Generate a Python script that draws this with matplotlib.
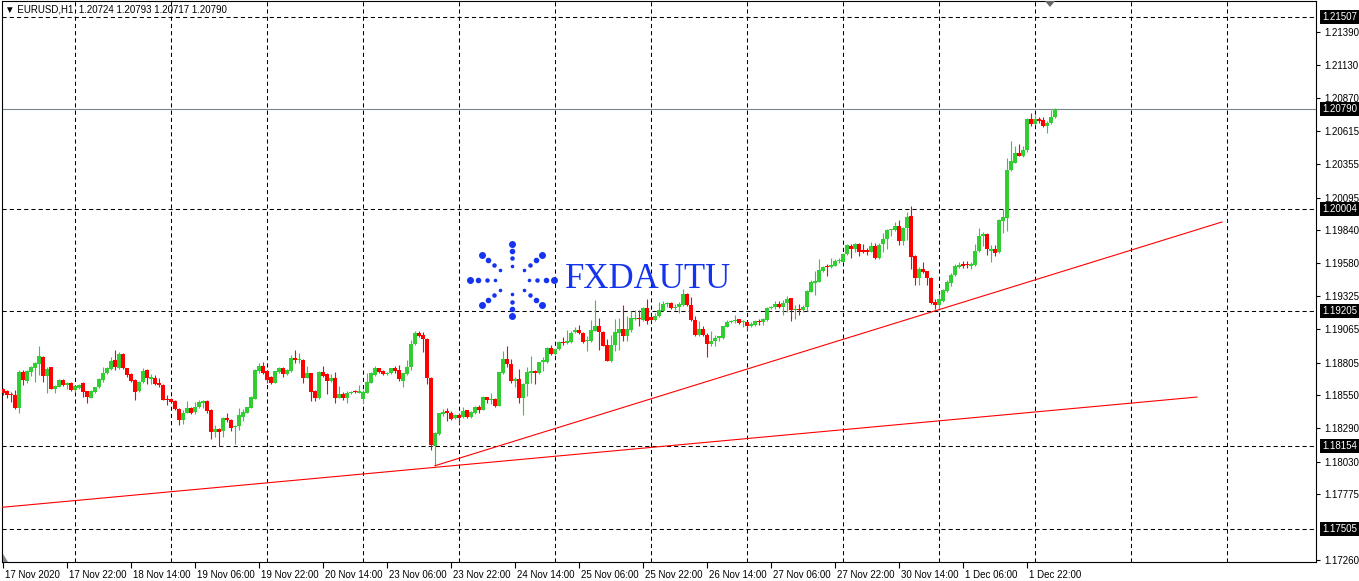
import numpy as np
import matplotlib
matplotlib.use("Agg")
import matplotlib.pyplot as plt
from matplotlib.patches import Polygon
from matplotlib.transforms import ScaledTranslation

plt.rcParams['font.family'] = ['Liberation Sans', 'DejaVu Sans']
plt.rcParams['lines.scale_dashes'] = False

# EURUSD H1 candles, bar 0 = 17 Nov 2020 06:00, last bar = 2 Dec 05:00
opens = [
    1.18596, 1.18583, 1.18552, 1.18552, 1.18453, 1.18734, 1.18661, 1.18734, 1.18765, 1.18796,
    1.18848, 1.18703, 1.18768, 1.18596, 1.18617, 1.18669, 1.18630, 1.18648, 1.18591, 1.18607,
    1.18643, 1.18583, 1.18531, 1.18575, 1.18612, 1.18669, 1.18721, 1.18755, 1.18825, 1.18765,
    1.18872, 1.18760, 1.18716, 1.18669, 1.18583, 1.18651, 1.18747, 1.18677, 1.18682, 1.18648,
    1.18630, 1.18521, 1.18521, 1.18505, 1.18440, 1.18357, 1.18412, 1.18451, 1.18417, 1.18461,
    1.18492, 1.18505, 1.18435, 1.18261, 1.18284, 1.18266, 1.18370, 1.18357, 1.18297, 1.18305,
    1.18378, 1.18414, 1.18453, 1.18521, 1.18742, 1.18781, 1.18742, 1.18695, 1.18648, 1.18734,
    1.18763, 1.18716, 1.18739, 1.18841, 1.18825, 1.18825, 1.18687, 1.18721, 1.18586, 1.18526,
    1.18734, 1.18713, 1.18661, 1.18687, 1.18531, 1.18562, 1.18526, 1.18565, 1.18578, 1.18570,
    1.18518, 1.18570, 1.18648, 1.18708, 1.18760, 1.18739, 1.18713, 1.18721, 1.18765, 1.18747,
    1.18664, 1.18716, 1.18768, 1.18950, 1.19038, 1.19020, 1.18989, 1.18685, 1.18154, 1.18245,
    1.18404, 1.18422, 1.18409, 1.18370, 1.18396, 1.18375, 1.18430, 1.18378, 1.18409, 1.18461,
    1.18435, 1.18534, 1.18508, 1.18521, 1.18466, 1.18721, 1.18833, 1.18794, 1.18661, 1.18677,
    1.18531, 1.18635, 1.18726, 1.18742, 1.18721, 1.18807, 1.18812, 1.18916, 1.18872, 1.18908,
    1.18968, 1.18955, 1.18968, 1.19040, 1.19060, 1.19034, 1.18972, 1.18970, 1.19053, 1.19092,
    1.19042, 1.18944, 1.18814, 1.18944, 1.19035, 1.19066, 1.19009, 1.19061, 1.19144, 1.19152,
    1.19139, 1.19230, 1.19157, 1.19139, 1.19165, 1.19211, 1.19261, 1.19274, 1.19230, 1.19237,
    1.19256, 1.19341, 1.19256, 1.19139, 1.19022, 1.19066, 1.19022, 1.18951, 1.18970, 1.18996,
    1.18996, 1.19081, 1.19118, 1.19126, 1.19145, 1.19119, 1.19121, 1.19087, 1.19100, 1.19129,
    1.19121, 1.19139, 1.19230, 1.19236, 1.19264, 1.19236, 1.19267, 1.19308, 1.19217, 1.19225,
    1.19212, 1.19243, 1.19360, 1.19425, 1.19438, 1.19524, 1.19561, 1.19548, 1.19563, 1.19599,
    1.19594, 1.19652, 1.19719, 1.19693, 1.19732, 1.19680, 1.19677, 1.19672, 1.19716, 1.19620,
    1.19732, 1.19771, 1.19839, 1.19839, 1.19875, 1.19753, 1.19854, 1.19948, 1.19636, 1.19462,
    1.19540, 1.19519, 1.19467, 1.19277, 1.19254, 1.19285, 1.19363, 1.19428, 1.19488, 1.19553,
    1.19571, 1.19571, 1.19563, 1.19566, 1.19675, 1.19792, 1.19810, 1.19675, 1.19696, 1.19667,
    1.19909, 1.19935, 1.20307, 1.20369, 1.20447, 1.20421, 1.20463, 1.20710, 1.20671, 1.20710,
    1.20702, 1.20655, 1.20676, 1.20724,
]
highs = [
    1.18604, 1.18591, 1.18578, 1.18591, 1.18747, 1.18747, 1.18747, 1.18778, 1.18809, 1.18934,
    1.18856, 1.18773, 1.18773, 1.18627, 1.18674, 1.18679, 1.18656, 1.18656, 1.18630, 1.18635,
    1.18656, 1.18586, 1.18591, 1.18617, 1.18687, 1.18768, 1.18773, 1.18851, 1.18903, 1.18890,
    1.18877, 1.18765, 1.18721, 1.18674, 1.18664, 1.18760, 1.18752, 1.18716, 1.18708, 1.18682,
    1.18635, 1.18552, 1.18526, 1.18510, 1.18446, 1.18435, 1.18505, 1.18456, 1.18500, 1.18513,
    1.18513, 1.18513, 1.18440, 1.18313, 1.18289, 1.18379, 1.18414, 1.18362, 1.18318, 1.18448,
    1.18440, 1.18461, 1.18544, 1.18752, 1.18799, 1.18812, 1.18747, 1.18700, 1.18742, 1.18773,
    1.18768, 1.18752, 1.18864, 1.18903, 1.18877, 1.18830, 1.18778, 1.18726, 1.18591, 1.18742,
    1.18778, 1.18721, 1.18713, 1.18731, 1.18622, 1.18578, 1.18583, 1.18583, 1.18591, 1.18630,
    1.18591, 1.18726, 1.18734, 1.18778, 1.18765, 1.18744, 1.18731, 1.18765, 1.18778, 1.18786,
    1.18726, 1.18825, 1.18981, 1.19051, 1.19051, 1.19046, 1.18994, 1.18695, 1.18258, 1.18414,
    1.18440, 1.18448, 1.18422, 1.18404, 1.18409, 1.18461, 1.18435, 1.18422, 1.18466, 1.18471,
    1.18547, 1.18539, 1.18570, 1.18526, 1.18734, 1.18898, 1.18937, 1.18830, 1.18695, 1.18755,
    1.18643, 1.18773, 1.18856, 1.18747, 1.18812, 1.18846, 1.18924, 1.18942, 1.18913, 1.18973,
    1.19007, 1.19059, 1.19051, 1.19079, 1.19099, 1.19047, 1.19014, 1.19139, 1.19295, 1.19152,
    1.19048, 1.18988, 1.19022, 1.19144, 1.19152, 1.19256, 1.19165, 1.19204, 1.19217, 1.19217,
    1.19243, 1.19300, 1.19170, 1.19196, 1.19282, 1.19289, 1.19282, 1.19282, 1.19263, 1.19282,
    1.19378, 1.19347, 1.19321, 1.19165, 1.19126, 1.19087, 1.19035, 1.19048, 1.19022, 1.19014,
    1.19092, 1.19139, 1.19139, 1.19178, 1.19147, 1.19139, 1.19126, 1.19118, 1.19139, 1.19147,
    1.19152, 1.19236, 1.19249, 1.19288, 1.19288, 1.19295, 1.19327, 1.19313, 1.19256, 1.19264,
    1.19256, 1.19373, 1.19451, 1.19522, 1.19615, 1.19563, 1.19574, 1.19620, 1.19612, 1.19620,
    1.19659, 1.19735, 1.19729, 1.19737, 1.19737, 1.19732, 1.19703, 1.19745, 1.19737, 1.19737,
    1.19818, 1.19849, 1.19849, 1.19901, 1.19922, 1.19865, 1.19984, 1.20031, 1.19649, 1.19550,
    1.19592, 1.19524, 1.19472, 1.19303, 1.19342, 1.19381, 1.19454, 1.19506, 1.19576, 1.19589,
    1.19597, 1.19597, 1.19589, 1.19732, 1.19857, 1.19826, 1.19818, 1.19727, 1.19722, 1.19927,
    1.20005, 1.20408, 1.20538, 1.20499, 1.20515, 1.20499, 1.20715, 1.20754, 1.20741, 1.20728,
    1.20723, 1.20697, 1.20780, 1.20793,
]
lows = [
    1.18552, 1.18531, 1.18500, 1.18440, 1.18414, 1.18630, 1.18643, 1.18703, 1.18656, 1.18708,
    1.18656, 1.18570, 1.18596, 1.18565, 1.18612, 1.18625, 1.18596, 1.18586, 1.18578, 1.18599,
    1.18539, 1.18492, 1.18526, 1.18565, 1.18604, 1.18656, 1.18713, 1.18747, 1.18747, 1.18757,
    1.18752, 1.18690, 1.18656, 1.18508, 1.18575, 1.18643, 1.18638, 1.18638, 1.18630, 1.18617,
    1.18508, 1.18474, 1.18495, 1.18435, 1.18313, 1.18324, 1.18409, 1.18404, 1.18404, 1.18453,
    1.18448, 1.18414, 1.18209, 1.18222, 1.18149, 1.18219, 1.18336, 1.18266, 1.18171, 1.18279,
    1.18344, 1.18409, 1.18448, 1.18516, 1.18721, 1.18716, 1.18643, 1.18638, 1.18643, 1.18726,
    1.18695, 1.18708, 1.18734, 1.18799, 1.18799, 1.18643, 1.18682, 1.18505, 1.18505, 1.18521,
    1.18695, 1.18557, 1.18656, 1.18492, 1.18526, 1.18513, 1.18487, 1.18560, 1.18565, 1.18565,
    1.18487, 1.18565, 1.18643, 1.18700, 1.18721, 1.18708, 1.18708, 1.18716, 1.18726, 1.18664,
    1.18617, 1.18711, 1.18747, 1.18942, 1.19007, 1.18890, 1.18638, 1.18118, 1.17998, 1.18235,
    1.18383, 1.18344, 1.18352, 1.18362, 1.18326, 1.18370, 1.18373, 1.18373, 1.18404, 1.18409,
    1.18430, 1.18492, 1.18482, 1.18461, 1.18466, 1.18716, 1.18773, 1.18643, 1.18617, 1.18492,
    1.18396, 1.18547, 1.18643, 1.18638, 1.18716, 1.18742, 1.18804, 1.18867, 1.18864, 1.18903,
    1.18942, 1.18950, 1.18955, 1.19034, 1.19029, 1.18956, 1.18897, 1.18962, 1.19048, 1.18905,
    1.18931, 1.18814, 1.18806, 1.18892, 1.18905, 1.18970, 1.18970, 1.19040, 1.19139, 1.19087,
    1.19126, 1.19107, 1.19126, 1.19133, 1.19157, 1.19204, 1.19237, 1.19222, 1.19217, 1.19191,
    1.19248, 1.19248, 1.19133, 1.19014, 1.19014, 1.19009, 1.18847, 1.18936, 1.18931, 1.18970,
    1.18990, 1.19081, 1.19113, 1.19113, 1.19108, 1.19082, 1.19061, 1.19082, 1.19087, 1.19100,
    1.19095, 1.19131, 1.19223, 1.19225, 1.19230, 1.19178, 1.19199, 1.19131, 1.19147, 1.19178,
    1.19199, 1.19204, 1.19355, 1.19334, 1.19433, 1.19516, 1.19483, 1.19542, 1.19561, 1.19586,
    1.19589, 1.19646, 1.19625, 1.19672, 1.19641, 1.19659, 1.19646, 1.19667, 1.19615, 1.19615,
    1.19667, 1.19696, 1.19792, 1.19831, 1.19722, 1.19722, 1.19766, 1.19537, 1.19415, 1.19415,
    1.19506, 1.19412, 1.19262, 1.19225, 1.19212, 1.19280, 1.19355, 1.19402, 1.19480, 1.19545,
    1.19545, 1.19545, 1.19537, 1.19558, 1.19670, 1.19714, 1.19649, 1.19589, 1.19636, 1.19662,
    1.19818, 1.19831, 1.20299, 1.20364, 1.20416, 1.20411, 1.20455, 1.20655, 1.20663, 1.20681,
    1.20645, 1.20598, 1.20668, 1.20717,
]
closes = [
    1.18570, 1.18552, 1.18549, 1.18448, 1.18734, 1.18669, 1.18739, 1.18773, 1.18804, 1.18856,
    1.18700, 1.18755, 1.18601, 1.18622, 1.18669, 1.18630, 1.18648, 1.18591, 1.18622, 1.18627,
    1.18578, 1.18539, 1.18583, 1.18612, 1.18679, 1.18726, 1.18765, 1.18817, 1.18773, 1.18872,
    1.18760, 1.18708, 1.18664, 1.18578, 1.18656, 1.18742, 1.18682, 1.18695, 1.18638, 1.18627,
    1.18513, 1.18513, 1.18500, 1.18443, 1.18357, 1.18414, 1.18451, 1.18409, 1.18461, 1.18497,
    1.18505, 1.18422, 1.18258, 1.18287, 1.18258, 1.18370, 1.18353, 1.18289, 1.18302, 1.18393,
    1.18419, 1.18456, 1.18539, 1.18744, 1.18781, 1.18721, 1.18669, 1.18648, 1.18737, 1.18765,
    1.18716, 1.18747, 1.18843, 1.18825, 1.18833, 1.18687, 1.18726, 1.18578, 1.18531, 1.18734,
    1.18703, 1.18664, 1.18687, 1.18531, 1.18557, 1.18531, 1.18570, 1.18578, 1.18573, 1.18583,
    1.18578, 1.18651, 1.18721, 1.18760, 1.18734, 1.18713, 1.18726, 1.18760, 1.18742, 1.18674,
    1.18721, 1.18773, 1.18950, 1.19038, 1.19012, 1.18986, 1.18682, 1.18162, 1.18253, 1.18409,
    1.18419, 1.18409, 1.18362, 1.18396, 1.18370, 1.18422, 1.18378, 1.18417, 1.18461, 1.18435,
    1.18539, 1.18508, 1.18513, 1.18466, 1.18734, 1.18833, 1.18794, 1.18661, 1.18677, 1.18531,
    1.18638, 1.18734, 1.18731, 1.18721, 1.18807, 1.18825, 1.18916, 1.18872, 1.18908, 1.18968,
    1.18955, 1.18976, 1.19038, 1.19060, 1.19034, 1.18969, 1.18977, 1.19061, 1.19092, 1.19040,
    1.18936, 1.18814, 1.18944, 1.19040, 1.19066, 1.19009, 1.19066, 1.19152, 1.19152, 1.19144,
    1.19235, 1.19133, 1.19139, 1.19170, 1.19217, 1.19261, 1.19269, 1.19230, 1.19243, 1.19263,
    1.19341, 1.19256, 1.19139, 1.19022, 1.19066, 1.19022, 1.18951, 1.18977, 1.18996, 1.19009,
    1.19087, 1.19120, 1.19133, 1.19139, 1.19113, 1.19126, 1.19087, 1.19108, 1.19131, 1.19124,
    1.19145, 1.19230, 1.19241, 1.19264, 1.19236, 1.19269, 1.19303, 1.19217, 1.19225, 1.19217,
    1.19243, 1.19366, 1.19431, 1.19444, 1.19529, 1.19555, 1.19548, 1.19568, 1.19602, 1.19602,
    1.19652, 1.19724, 1.19693, 1.19729, 1.19672, 1.19672, 1.19672, 1.19716, 1.19620, 1.19724,
    1.19771, 1.19844, 1.19844, 1.19870, 1.19753, 1.19857, 1.19940, 1.19628, 1.19462, 1.19540,
    1.19511, 1.19462, 1.19267, 1.19254, 1.19298, 1.19371, 1.19433, 1.19493, 1.19558, 1.19571,
    1.19563, 1.19566, 1.19576, 1.19680, 1.19797, 1.19810, 1.19693, 1.19696, 1.19662, 1.19917,
    1.19940, 1.20312, 1.20377, 1.20447, 1.20421, 1.20468, 1.20710, 1.20671, 1.20710, 1.20694,
    1.20655, 1.20681, 1.20728, 1.20790,
]

# time axis labels every 16 bars
time_labels = ["17 Nov 2020", "17 Nov 22:00", "18 Nov 14:00", "19 Nov 06:00", "19 Nov 22:00",
               "20 Nov 14:00", "23 Nov 06:00", "23 Nov 22:00", "24 Nov 14:00", "25 Nov 06:00",
               "25 Nov 22:00", "26 Nov 14:00", "27 Nov 06:00", "27 Nov 22:00", "30 Nov 14:00",
               "1 Dec 06:00", "1 Dec 22:00"]
label_bars = [0, 16, 32, 48, 64, 80, 96, 112, 128, 144, 160, 176, 192, 208, 224, 240, 256]
day_bars = [18, 42, 66, 90, 114, 138, 162, 186, 210, 234, 258, 282, 306]  # day separators

price_ticks = [1.21390, 1.21130, 1.20870, 1.20615, 1.20355, 1.20095, 1.19840, 1.19580,
               1.19325, 1.19065, 1.18805, 1.18550, 1.18290, 1.18030, 1.17775, 1.17260]
level_lines = [1.21507, 1.20004, 1.19205, 1.18154, 1.17505]
bid_price = 1.20790

# trend lines (bar index, price)
trend_low_x = [-0.5, 298.5]
trend_low_y = [1.17672, 1.18535]
trend_up_x = [108, 304.75]
trend_up_y = [1.17998, 1.19904]

W, H = 1359, 581
fig = plt.figure(figsize=(W / 100, H / 100), dpi=100)
ax = fig.add_axes([2 / W, (H - 562) / H, 1314 / W, 561 / H])
ax.set_xlim(-0.25, 328.25)
ax.set_ylim(1.17245, 1.21632)

dash = (0, (3.0, 2.2))
for b in day_bars:
    ax.axvline(b, color='black', lw=0.75, ls=dash, zorder=1)
for v in level_lines:
    ax.axhline(v, color='black', lw=0.75, ls=dash, zorder=1)
ax.axhline(bid_price, color='#7a8590', lw=0.8, zorder=1)

o = np.array(opens)
h = np.array(highs)
l = np.array(lows)
c = np.array(closes)
h = np.maximum(h, np.maximum(o, c))
l = np.minimum(l, np.minimum(o, c))
x = np.arange(len(o))
col = np.where(c >= o, '#32cd32', '#ff0000')
ax.vlines(x, l, h, colors=col, lw=0.8, zorder=3)
ax.bar(x, np.maximum(np.abs(c - o), 0.00009), bottom=np.minimum(o, c), width=0.78,
       color=col, lw=0, zorder=3)

ax.plot(trend_low_x, trend_low_y, color='red', lw=0.8, zorder=4)
ax.plot(trend_up_x, trend_up_y, color='red', lw=0.8, zorder=4)

# axes
for s in ax.spines.values():
    s.set_color('black')
    s.set_linewidth(0.8)
ax.yaxis.tick_right()
ax.set_yticks(price_ticks)
ax.set_yticklabels([f"{v:.5f}" for v in price_ticks])
ax.tick_params(axis='y', length=3, width=0.8, pad=3, labelsize=7, colors='black')
ax.set_xticks(label_bars)
ax.set_xticklabels(time_labels)
ax.tick_params(axis='x', length=4, width=0.8, pad=2, labelsize=7, colors='black')
for lbl in ax.get_xticklabels():
    lbl.set_ha('left')
    lbl.set_transform(lbl.get_transform() + ScaledTranslation(2 / 100, 0, fig.dpi_scale_trans))

for v in level_lines + [bid_price]:
    ax.annotate(f"{v:.5f}", xy=(1, v), xycoords=('axes fraction', 'data'),
                xytext=(6, 0), textcoords='offset pixels', ha='left', va='center',
                color='white', fontsize=7, annotation_clip=False,
                bbox=dict(boxstyle='square,pad=0.2', fc='black', ec='none'))

fig.text(5 / W, 1 - 9.5 / H, "\u25bc EURUSD,H1  1.20724 1.20793 1.20717 1.20790",
         fontsize=7, va='center', ha='left', color='black')

# watermark logo
blue = '#1434f0'
cx, cy = 512, 280
for k in range(8):
    ang = np.deg2rad(45 * k)
    for r, sz in zip([0.40, 0.60, 0.80, 1.0], [2.5, 5, 9, 16]):
        px = cx + 42 * r * np.cos(ang)
        py = cy - 36 * r * np.sin(ang)
        fig.patches  # keep figure-level drawing
        fig.add_artist(plt.Line2D([px / W], [1 - py / H], marker='o', ms=np.sqrt(sz),
                                  color=blue, lw=0, transform=fig.transFigure))
fig.text(565 / W, 1 - 280 / H, "FXDAUTU", fontsize=25, family='Liberation Serif',
         color=blue, va='center', ha='left')

# small grey markers
fig.add_artist(Polygon([[1045 / W, 1 - 1 / H], [1055 / W, 1 - 1 / H], [1050 / W, 1 - 7 / H]],
                       closed=True, fc='#666666', ec='none', transform=fig.transFigure))
fig.add_artist(Polygon([[3 / W, 1 - 554 / H], [3 / W, 1 - 562 / H], [8 / W, 1 - 562 / H]],
                       closed=True, fc='#7a8590', ec='none', transform=fig.transFigure))

fig.savefig("out.png", dpi=100, facecolor='white')
